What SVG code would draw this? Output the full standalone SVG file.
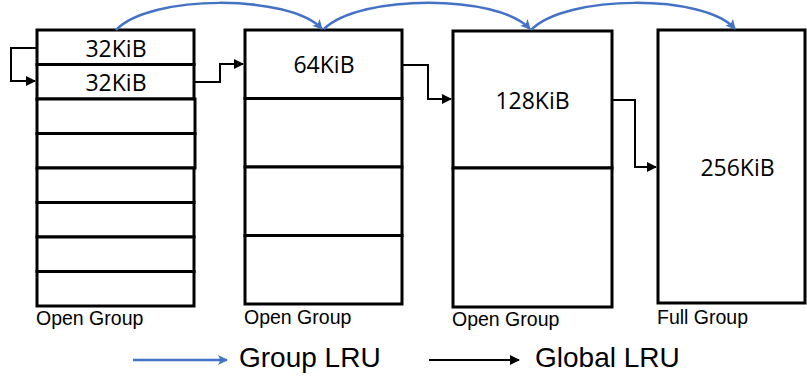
<svg xmlns="http://www.w3.org/2000/svg" width="807" height="376" viewBox="0 0 807 376">
<defs>
<style>
.box{fill:#fff;stroke:#000;stroke-width:3}
.sz{font-family:"Open Sans","Noto Sans",sans-serif;font-size:23px;fill:#000;text-anchor:middle}
.lbl{font-family:"Liberation Sans",Arial,sans-serif;font-size:19.5px;fill:#000}
.leg{font-family:"Liberation Sans",Arial,sans-serif;font-size:28px;fill:#000}
.glru{fill:none;stroke:#000;stroke-width:2}
.grp{fill:none;stroke:#4472C4;stroke-width:2.5}
</style>
<marker id="ab" viewBox="0 0 10 10" refX="9" refY="5" markerWidth="4" markerHeight="4" orient="auto" markerUnits="strokeWidth">
<path d="M0,0 L10,5 L0,10 L2.5,5 z" fill="#4472C4"/>
</marker>
<marker id="ak" viewBox="0 0 10 10" refX="9" refY="5" markerWidth="5" markerHeight="5" orient="auto" markerUnits="strokeWidth">
<path d="M0,0 L10,5 L0,10 z" fill="#000"/>
</marker>
</defs>
<rect width="807" height="376" fill="#fff"/>

<g id="group1">
<rect class="box" x="37" y="30" width="157" height="34.5"/>
<rect class="box" x="37" y="64.5" width="157" height="34.5"/>
<rect class="box" x="37" y="99" width="158" height="34.5"/>
<rect class="box" x="37" y="133.5" width="158" height="34.5"/>
<rect class="box" x="37" y="168" width="157" height="34.5"/>
<rect class="box" x="37" y="202.5" width="157" height="34.5"/>
<rect class="box" x="37" y="237" width="157" height="34.5"/>
<rect class="box" x="37" y="271.5" width="157" height="34.5"/>
<text class="sz" x="116" y="57">32KiB</text>
<text class="sz" x="116" y="91">32KiB</text>
<text class="lbl" x="36" y="325">Open Group</text>
</g>

<g id="group2">
<rect class="box" x="245" y="30" width="157" height="68.5"/>
<rect class="box" x="245" y="98.5" width="157" height="68.5"/>
<rect class="box" x="245" y="167" width="157" height="68.5"/>
<rect class="box" x="245" y="235.5" width="157" height="68.5"/>
<text class="sz" x="324" y="73">64KiB</text>
<text class="lbl" x="244" y="324">Open Group</text>
</g>

<g id="group3">
<rect class="box" x="453" y="31" width="159" height="137"/>
<rect class="box" x="453" y="168" width="159" height="139"/>
<text class="sz" x="532.5" y="109">128KiB</text>
<text class="lbl" x="452" y="326">Open Group</text>
</g>

<g id="group4">
<rect class="box" x="658" y="30" width="147" height="273"/>
<text class="sz" x="737.5" y="176">256KiB</text>
<text class="lbl" x="657" y="324">Full Group</text>
</g>

<g id="connectors">
<path class="glru" d="M37,48 H11 V81 H35" marker-end="url(#ak)"/>
<path class="glru" d="M194,82 H220 V64 H243" marker-end="url(#ak)"/>
<path class="glru" d="M402,65 H428 V99 H451" marker-end="url(#ak)"/>
<path class="glru" d="M612,100 H635 V167 H656" marker-end="url(#ak)"/>
<path class="grp" d="M116,30 C150,-6 290,-6 322,29" marker-end="url(#ab)"/>
<path class="grp" d="M324,29 C360,-6 498,-6 530,29" marker-end="url(#ab)"/>
<path class="grp" d="M531,30 C566,-6 705,-6 735,29" marker-end="url(#ab)"/>
</g>

<g id="legend">
<line class="grp" x1="133" y1="360" x2="227" y2="360" marker-end="url(#ab)"/>
<text class="leg" x="239" y="367">Group LRU</text>
<line class="glru" x1="429" y1="360" x2="519" y2="360" marker-end="url(#ak)"/>
<text class="leg" x="535" y="367">Global LRU</text>
</g>
</svg>
